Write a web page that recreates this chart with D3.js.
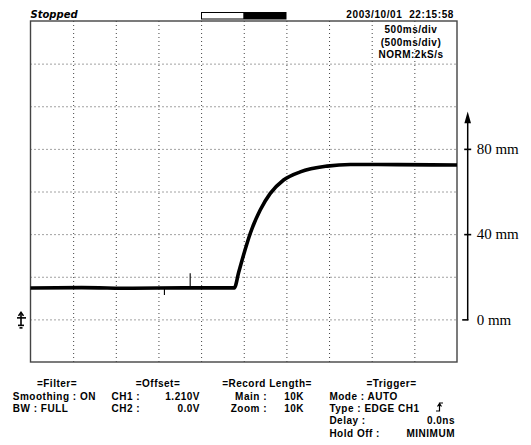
<!DOCTYPE html>
<html>
<head>
<meta charset="utf-8">
<script src="https://cdn.jsdelivr.net/npm/d3@7"></script>
<style>
  html, body { margin: 0; padding: 0; background: #fff; }
  svg { display: block; }
  text { white-space: pre; }
</style>
</head>
<body>
<svg id="chart" width="531" height="445"></svg>
<script>
// ---- data ----
const traceTime = [0, 0.6, 1.2, 1.8, 2.39, 2.44, 2.497, 2.576, 2.693, 2.811, 2.967, 3.163, 3.477, 3.75, 4.3, 5.0];   // s
const traceMM   = [14.7, 14.9, 14.6, 14.8, 14.8, 22.0, 30.1, 40.3, 51.3, 59.1, 65.4, 69.2, 71.9, 72.7, 72.6, 72.4]; // mm
const glitchTime = [1.57, 1.872];
const glitchMM   = [11.4, 21.7];
const timeTicks = [0, 0.5, 1, 1.5, 2, 2.5, 3, 3.5, 4, 4.5, 5];
const mmGrid = [-20, 0, 20, 40, 60, 80, 100, 120, 140];
const mmTicks = [0, 40, 80];
const mmTickLabels = ["0 mm", "40 mm", "80 mm"];
const headerLeft = "Stopped";
const headerRight = "2003/10/01  22:15:58";
const infoLines = ["500ms/div", "(500ms/div)", "NORM:2kS/s"];

// ---- layout ----
const X0 = 30.5, X1 = 457, Y0 = 21, Y1 = 362;
const svg = d3.select("#chart");
const x = d3.scaleLinear().domain([0, 5]).range([X0, X1]);
const y = d3.scaleLinear().domain([-20, 140]).range([Y1, Y0]);

// grid
const gx = svg.append("g").attr("transform", `translate(0,${Y1})`)
  .call(d3.axisBottom(x).tickValues(timeTicks.slice(1, -1)).tickSize(-(Y1 - Y0)).tickFormat(""));
gx.select(".domain").remove();
gx.selectAll("line").attr("stroke", "#444").attr("stroke-dasharray", "1,3").attr("stroke-width", 1);

const gy = svg.append("g").attr("transform", `translate(${X0},0)`)
  .call(d3.axisLeft(y).tickValues(mmGrid.slice(1, -1)).tickSize(-(X1 - X0)).tickFormat(""));
gy.select(".domain").remove();
gy.selectAll("line").attr("stroke", "#444").attr("stroke-dasharray", "1,3").attr("stroke-width", 1);

// frame
svg.append("rect").attr("x", X0).attr("y", Y0).attr("width", X1 - X0).attr("height", Y1 - Y0)
  .attr("fill", "none").attr("stroke", "#444").attr("stroke-width", 1.4);

// glitches
svg.append("g").selectAll("line").data(glitchTime).join("line")
  .attr("x1", d => x(d)).attr("x2", d => x(d))
  .attr("y1", y(14.8)).attr("y2", (d, i) => y(glitchMM[i]))
  .attr("stroke", "#000").attr("stroke-width", 1.1);

// trace
const pts = traceTime.map((t, i) => [t, traceMM[i]]);
svg.append("path").datum(pts)
  .attr("d", d3.line().x(d => x(d[0])).y(d => y(d[1])).curve(d3.curveMonotoneX))
  .attr("fill", "none").attr("stroke", "#000").attr("stroke-width", 3.6).attr("stroke-linejoin", "round");

// header
svg.append("text").attr("x", 30.5).attr("y", 18).text(headerLeft)
  .attr("font-family", "DejaVu Sans").attr("font-weight", "bold").attr("font-style", "italic").attr("font-size", 10);
svg.append("text").attr("x", 454).attr("y", 18).attr("text-anchor", "end").text(headerRight)
  .attr("font-family", "Liberation Sans").attr("font-weight", "bold").attr("font-size", 10).attr("letter-spacing", 0.6);
// progress bar
svg.append("rect").attr("x", 201).attr("y", 12).attr("width", 85.5).attr("height", 7.5).attr("fill", "#000");
svg.append("rect").attr("x", 202).attr("y", 13).attr("width", 41.3).attr("height", 5.5).attr("fill", "#fff");

// info lines in box
svg.append("g").selectAll("text").data(infoLines).join("text")
  .attr("x", 411).attr("y", (d, i) => 33 + i * 12.5).attr("text-anchor", "middle")
  .attr("font-family", "Liberation Sans").attr("font-weight", "bold").attr("font-size", 10).attr("letter-spacing", 0.5).text(d => d);

// right mm axis
const ax = svg.append("g").attr("transform", "translate(467.7,0)")
  .call(d3.axisRight(y).tickValues(mmTicks).tickSize(0).tickPadding(9).tickFormat((d, i) => mmTickLabels[i]));
ax.select(".domain").remove();
ax.selectAll("text").attr("font-family", "Liberation Serif").attr("font-size", 15).attr("fill", "#000").attr("dy", "0.32em");
ax.selectAll(".tick line").attr("stroke", "#000").attr("stroke-width", 1.6)
  .attr("x1", d => d === 0 ? -5.5 : -3.5).attr("x2", d => d === 0 ? 0.7 : 3.5);
ax.append("line").attr("x1", 0).attr("x2", 0).attr("y1", y(0) + 0.8).attr("y2", y(93)).attr("stroke", "#000").attr("stroke-width", 1.5);
ax.append("path").attr("d", `M0,${y(97.5)} L-3.3,${y(92)} L3.3,${y(92)} Z`).attr("fill", "#000");

// trigger / ground marker
const m = svg.append("g").attr("stroke", "#000").attr("stroke-width", 1.6).attr("fill", "none");
const gy0 = y(0);
m.append("line").attr("x1", 21).attr("x2", 21).attr("y1", gy0 - 6).attr("y2", gy0 + 6);
m.append("line").attr("x1", 17).attr("x2", 26).attr("y1", gy0 - 1.5).attr("y2", gy0 - 1.5);
m.append("path").attr("d", `M18.5,${gy0 - 3.5} L21,${gy0 - 7} L23.5,${gy0 - 3.5}`);
m.append("line").attr("x1", 18).attr("x2", 24).attr("y1", gy0 + 6).attr("y2", gy0 + 6);
m.append("line").attr("x1", 19.5).attr("x2", 22.5).attr("y1", gy0 + 8.5).attr("y2", gy0 + 8.5);

// bottom info
const info = [
  ["=Filter=", 57, 387, "middle"],
  ["Smoothing : ON", 12.8, 399.5, "start"],
  ["BW : FULL", 12.8, 411.5, "start"],
  ["=Offset=", 158, 387, "middle"],
  ["CH1 :", 111.5, 399.5, "start"],
  ["1.210V", 200, 399.5, "end"],
  ["CH2 :", 111.5, 411.5, "start"],
  ["0.0V", 200, 411.5, "end"],
  ["=Record Length=", 267, 387, "middle"],
  ["Main :", 267, 399.5, "end"],
  ["10K", 304, 399.5, "end"],
  ["Zoom :", 267, 411.5, "end"],
  ["10K", 304, 411.5, "end"],
  ["=Trigger=", 391.5, 387, "middle"],
  ["Mode : AUTO", 329.4, 399.5, "start"],
  ["Type : EDGE CH1", 329.4, 411.5, "start"],
  ["Delay :", 329.4, 424, "start"],
  ["0.0ns", 455, 424, "end"],
  ["Hold Off :", 329.4, 436.5, "start"],
  ["MINIMUM", 455, 436.5, "end"]
];
svg.append("g").selectAll("text").data(info).join("text")
  .attr("x", d => d[1]).attr("y", d => d[2]).attr("text-anchor", d => d[3])
  .attr("font-family", "Liberation Sans").attr("font-weight", "bold").attr("font-size", 10)
  .attr("letter-spacing", 0.5).text(d => d[0]);
// rising edge symbol
svg.append("path").attr("d", "M436,411 L439.5,411 L439.5,403 L443,403 M437.5,406.5 L439.5,403.5 L441.5,406.5")
  .attr("fill", "none").attr("stroke", "#000").attr("stroke-width", 1.2);
</script>
</body>
</html>
